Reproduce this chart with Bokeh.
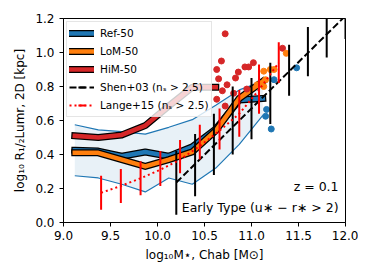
import numpy as np
from bokeh.plotting import figure
from bokeh.models import Legend, LegendItem, FixedTicker, Label, Range1d
from bokeh.embed import file_html
from bokeh.resources import INLINE

# ---------------- data ----------------
mass_bins = [9.12, 9.37, 9.62, 9.87, 10.12, 10.37, 10.62, 10.87, 11.12]
ref_median = [0.425, 0.42, 0.39, 0.415, 0.39, 0.445, 0.55, 0.72, 0.73]
ref_p16 = [0.275, 0.262, 0.225, 0.18, 0.262, 0.225, 0.32, 0.46, 0.63]
ref_p84 = [0.575, 0.545, 0.535, 0.52, 0.56, 0.605, 0.69, 0.78, 0.83]
lom_median = [0.41, 0.41, 0.37, 0.33, 0.37, 0.415, 0.54, 0.73, 0.83]
him_bins = [9.12, 9.37, 9.62, 9.87, 10.12, 10.37, 10.62]
him_median = [0.51, 0.50, 0.515, 0.57, 0.685, 0.795, 0.795]

ref_pts_x = [11.16, 11.15, 11.21, 11.48, 11.24]
ref_pts_y = [0.665, 0.625, 0.55, 0.91, 0.84]
lom_pts_x = [11.13, 11.20, 11.24, 11.37, 11.15, 11.13, 11.06]
lom_pts_y = [0.89, 0.90, 0.90, 0.995, 0.84, 0.80, 0.81]
him_pts_x = [10.72, 10.68, 10.63, 10.65, 10.74, 10.69, 10.63, 10.81, 10.86,
             10.83, 10.93, 10.97, 11.02, 10.95, 11.33, 10.72]
him_pts_y = [1.11, 0.95, 0.90, 0.845, 0.81, 0.775, 0.725, 0.76, 0.885,
             0.85, 0.915, 0.915, 0.94, 0.785, 1.025, 0.685]

shen_mass = [10.2, 10.4, 10.6, 10.8, 11.0, 11.2, 11.4, 11.6, 11.8, 12.0]
shen_median = [0.235, 0.344, 0.453, 0.562, 0.671, 0.78, 0.889, 0.998, 1.107, 1.216]
shen_lo = [0.045, 0.155, 0.28, 0.40, 0.49, 0.58, 0.745, 0.86, 0.97, 1.08]
shen_hi = [0.42, 0.52, 0.64, 0.80, 0.85, 0.94, 1.045, 1.15, 1.25, 1.35]

lange_mass = [9.40, 9.61, 9.82, 10.03, 10.24, 10.45, 10.66, 10.87, 11.08, 11.29]
lange_median = [0.175, 0.215, 0.26, 0.31, 0.37, 0.45, 0.54, 0.64, 0.78, 0.94]
lange_lo = [0.075, 0.115, 0.16, 0.215, 0.29, 0.37, 0.43, 0.505, 0.64, 0.82]
lange_hi = [0.275, 0.315, 0.36, 0.42, 0.485, 0.575, 0.67, 0.78, 0.93, 1.06]

x_ticks = [9.0, 9.5, 10.0, 10.5, 11.0, 11.5, 12.0]
y_ticks = [0.0, 0.2, 0.4, 0.6, 0.8, 1.0, 1.2]

BLUE = "#1f77b4"
ORANGE = "#ff7f0e"
RED = "#d62728"
FONT = "DejaVu Sans"

p = figure(width=358, height=264, output_backend="svg", toolbar_location=None,
           x_range=Range1d(9.0, 12.0), y_range=Range1d(0.0, 1.2),
           min_border_left=63, min_border_right=13, min_border_top=18,
           min_border_bottom=38)
p.background_fill_color = "white"
p.border_fill_color = "white"
p.outline_line_color = "black"
p.outline_line_width = 1
p.xgrid.visible = False
p.ygrid.visible = False

for ax in (p.xaxis[0], p.yaxis[0]):
    ax.major_tick_in = 0
    ax.major_tick_out = 4
    ax.minor_tick_line_color = None
    ax.axis_line_color = "black"
    ax.major_tick_line_color = "black"
    ax.major_label_text_font = FONT
    ax.major_label_text_font_size = "12px"
    ax.major_label_text_color = "black"
    ax.axis_label_text_font = FONT
    ax.axis_label_text_font_size = "12px"
    ax.axis_label_text_font_style = "normal"
    ax.axis_label_text_color = "black"

p.xaxis.ticker = FixedTicker(ticks=x_ticks)
p.yaxis.ticker = FixedTicker(ticks=y_ticks)
p.xaxis.major_label_overrides = {t: f"{t:.1f}" for t in x_ticks}
p.yaxis.major_label_overrides = {t: f"{t:.1f}" for t in y_ticks}
p.xaxis.major_label_standoff = 4
p.yaxis.major_label_standoff = 5
p.xaxis.axis_label_standoff = 5
p.yaxis.axis_label_standoff = 5
p.xaxis.axis_label = "log\u2081\u2080M\u22c6, Chab [M\u2299]"
p.yaxis.axis_label = "log\u2081\u2080 R\u2081/\u2082Lumr, 2D [kpc]"

# scatter band of Ref-50
p.varea(x=mass_bins, y1=ref_p16, y2=ref_p84, fill_color=BLUE, fill_alpha=0.1)
p.line(mass_bins, ref_p16, line_color=BLUE, line_width=1.2)
p.line(mass_bins, ref_p84, line_color=BLUE, line_width=1.2)

def thick(xs, ys, color):
    b = p.line(xs, ys, line_color="black", line_width=7, line_cap="square", line_join="round")
    c = p.line(xs, ys, line_color=color, line_width=4.5, line_cap="square", line_join="round")
    return b, c

ref_b, ref_c = thick(mass_bins, ref_median, BLUE)
lom_b, lom_c = thick(mass_bins, lom_median, ORANGE)
him_b, him_c = thick(him_bins, him_median, RED)

p.scatter(him_pts_x, him_pts_y, size=6, fill_color=RED, line_color=RED)
p.scatter(lom_pts_x, lom_pts_y, size=6, fill_color=ORANGE, line_color=ORANGE)
p.scatter(ref_pts_x, ref_pts_y, size=6, fill_color=BLUE, line_color=BLUE)

# Shen+03
shen_line = p.line(shen_mass, shen_median, line_color="black", line_width=2, line_dash="7 3")
p.segment(x0=shen_mass, y0=shen_lo, x1=shen_mass, y1=shen_hi, line_color="black", line_width=2)
# zero-size markers on the points: only used to draw the vertical tick in the legend
shen_tick = p.scatter(x=shen_mass, y=shen_median, marker="dash", angle=np.pi / 2, size=0,
                      line_color="black", line_width=2)

# Lange+15
lange_line = p.line(lange_mass, lange_median, line_color="red", line_width=2, line_dash="2 3")
p.segment(x0=lange_mass, y0=lange_lo, x1=lange_mass, y1=lange_hi, line_color="red", line_width=2)
lange_tick = p.scatter(x=lange_mass, y=lange_median, marker="dash", angle=np.pi / 2, size=0,
                       line_color="red", line_width=2)

legend = Legend(items=[
    LegendItem(label="Ref-50", renderers=[ref_b, ref_c]),
    LegendItem(label="LoM-50", renderers=[lom_b, lom_c]),
    LegendItem(label="HiM-50", renderers=[him_b, him_c]),
    LegendItem(label="Shen+03 (n\u209b > 2.5)", renderers=[shen_line, shen_tick]),
    LegendItem(label="Lange+15 (n\u209b > 2.5)", renderers=[lange_line, lange_tick]),
], location="top_left")
legend.margin = 3
legend.padding = 2
legend.spacing = -2
legend.glyph_height = 18
legend.glyph_width = 25
legend.label_height = 12
legend.label_standoff = 6
legend.label_text_font = FONT
legend.label_text_font_size = "10.5px"
legend.label_text_color = "black"
legend.border_line_color = "#cccccc"
legend.border_line_width = 1
legend.background_fill_color = "white"
legend.background_fill_alpha = 0.8
p.add_layout(legend)

p.add_layout(Label(x=11.926, y=0.21, text="z = 0.1", text_align="right",
                   text_baseline="middle", text_font=FONT, text_font_size="12.5px",
                   text_color="black"))
p.add_layout(Label(x=11.926, y=0.091, text="Early Type (u\u2217 \u2212 r\u2217 > 2)",
                   text_align="right", text_baseline="middle", text_font=FONT,
                   text_font_size="12.5px", text_color="black"))

open("out.html", "w").write(file_html(p, INLINE))
